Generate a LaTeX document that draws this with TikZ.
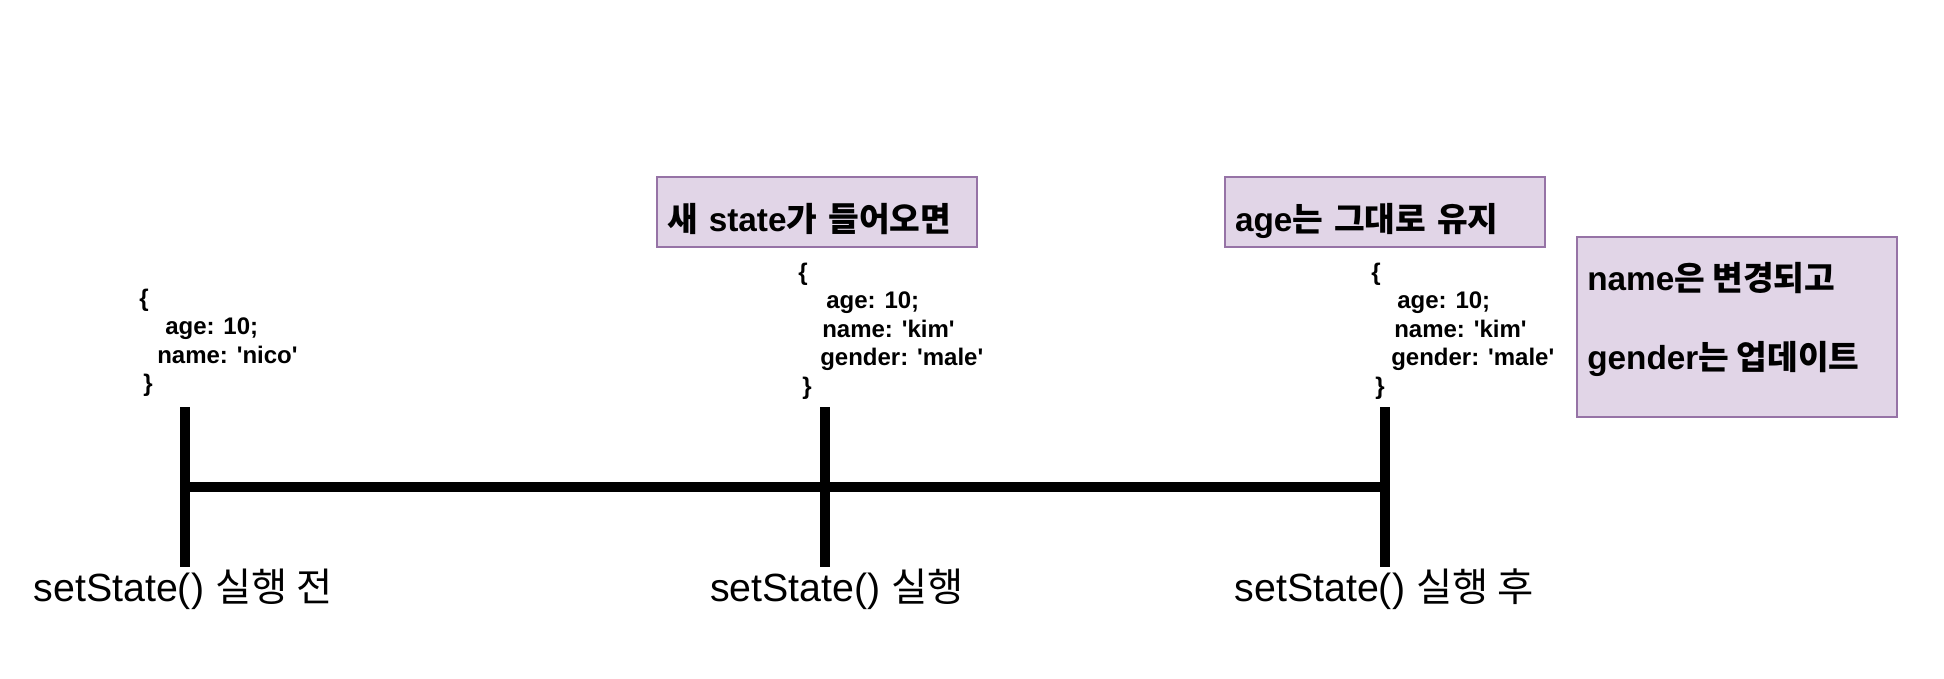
\documentclass[tikz,border=0pt]{standalone}
\usepackage{fontspec}
\setmainfont{Liberation Sans}
\newfontfamily\kr{Noto Sans CJK KR}
\newcommand{\ko}[1]{{\kr #1}}
\newcommand{\sq}{\textquotesingle}
\usetikzlibrary{positioning,calc}
\definecolor{noteFill}{HTML}{E1D5E7}
\definecolor{noteLine}{HTML}{9673A6}
\tikzset{
  notebox/.style={draw=noteLine,fill=noteFill,line width=1.1pt,inner xsep=7.5pt,
    minimum width=240pt,text width=225pt,align=left,
    text height=31pt,text depth=1.4pt,
    font=\bfseries\fontsize{25}{30}\selectfont},
  notetext/.style={anchor=base west,inner sep=0pt,
    font=\bfseries\fontsize{25}{30}\selectfont},
  statecode/.style={anchor=north west,inner sep=0pt,align=left,
    font=\bfseries\fontsize{18}{21.4}\selectfont},
  timeline/.style={line width=7.5pt},
  steplabel/.style={inner sep=0pt,font=\fontsize{29.5}{35}\selectfont}
}

\begin{document}
\begin{tikzpicture}[x=0.75pt,y=-0.75pt]
\useasboundingbox (0,0) rectangle (1944,678);

    % timeline
    \coordinate (t1) at (185,487);
    \coordinate (t2) at (825,487);
    \coordinate (t3) at (1385,487);
    \draw[timeline] (t1) -- (t3);
    \foreach \t in {t1,t2,t3}
        \draw[timeline] ($(\t)+(0,-80)$) -- ($(\t)+(0,80)$);

    \node[steplabel] (before) at (183,589) {setState() \ko{실행 전}};
    \node[steplabel] (run) at (837,589) {setState() \ko{실행}};
    \node[steplabel] (after) at (1384,589) {setState() \ko{실행 후}};

    % state objects
    \node[statecode] (oldstate) at (139,288.5) {\{\\
        \hspace*{19.5pt}age: 10;\\
        \hspace*{13.5pt}name: \sq nico\sq\\
        \hspace*{3pt}\}};
    \node[statecode] (newstate) at (798,262.5) {\{\\
        \hspace*{21pt}age: 10;\\
        \hspace*{18pt}name: \sq kim\sq\\
        \hspace*{16.5pt}gender: \sq male\sq\\
        \hspace*{3pt}\}};
    \node[statecode] (mergedstate) at (1371,262.5) {\{\\
        \hspace*{19.5pt}age: 10;\\
        \hspace*{17.25pt}name: \sq kim\sq\\
        \hspace*{15pt}gender: \sq male\sq\\
        \hspace*{3pt}\}};

    % notes
    \node[notebox,minimum height=52.5pt] (incoming) at (817,212) {\ko{새} state\ko{가 들어오면}};
    \node[notebox,minimum height=52.5pt] (keepage) at (1385,212) {age\ko{는 그대로 유지}};
    \node[notebox,minimum height=135pt] (update) at (1737,327) {};
    \node[notetext] (namenote) at (1587,290.7) {name\ko{은 변경되고}};
    \node[notetext] (gendernote) at (1587,369.7) {gender\ko{는 업데이트}};
\end{tikzpicture}
\end{document}
